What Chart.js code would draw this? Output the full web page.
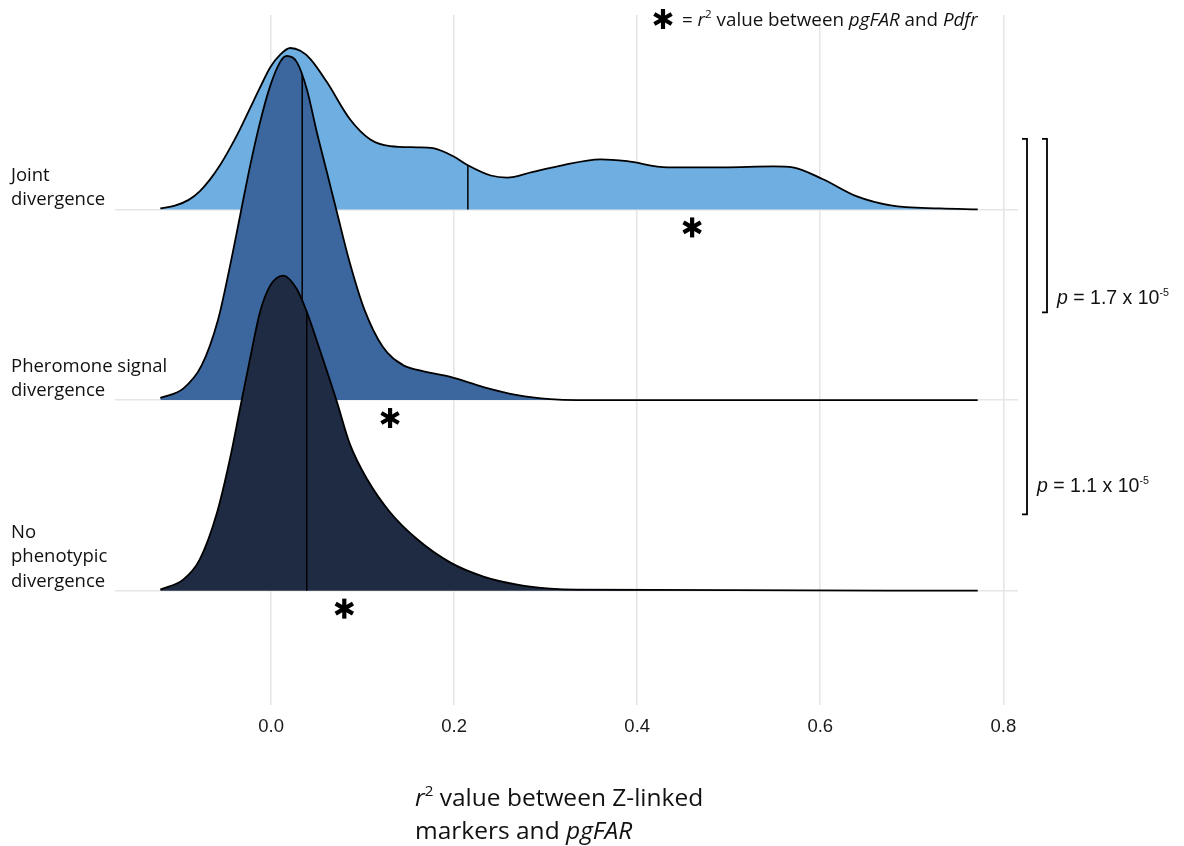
<!DOCTYPE html>
<html>
<head>
<meta charset="utf-8">
<script src="https://cdn.jsdelivr.net/npm/chart.js@4.4.1/dist/chart.umd.min.js"></script>
<style>
  html, body { margin: 0; padding: 0; background: #fff; }
  canvas { display: block; }
</style>
</head>
<body>
<canvas id="myChart" width="1184" height="846"></canvas>
<script>
// ridge groups, top to bottom, and where each ridge sits on the y axis
const groups = [['Joint', 'divergence'], ['Pheromone signal', 'divergence'], ['No', 'phenotypic', 'divergence']];
const ridgeBase = [2, 1, 0];
const ridgeColors = ['#6eaee0', '#3c679e', '#1e2b42'];

// density curves (x = r2, height above the ridge baseline)
const jointX = [-0.121, -0.105, -0.090, -0.078, -0.067, -0.056, -0.045, -0.034, -0.023, -0.012, -0.001, 0.010, 0.021, 0.032, 0.043, 0.061, 0.086, 0.108, 0.130, 0.160, 0.177, 0.199, 0.215, 0.240, 0.258, 0.285, 0.313, 0.360, 0.389, 0.433, 0.494, 0.549, 0.570, 0.603, 0.640, 0.677, 0.731, 0.772];
const jointH = [0.005, 0.020, 0.050, 0.095, 0.155, 0.230, 0.320, 0.420, 0.530, 0.640, 0.745, 0.812, 0.847, 0.832, 0.789, 0.668, 0.474, 0.368, 0.332, 0.326, 0.321, 0.279, 0.232, 0.178, 0.167, 0.196, 0.226, 0.263, 0.253, 0.221, 0.221, 0.226, 0.221, 0.158, 0.068, 0.021, 0.005, 0];

const pherX = [-0.121, -0.096, -0.076, -0.058, -0.045, -0.034, -0.023, -0.012, -0.001, 0.010, 0.017, 0.028, 0.039, 0.050, 0.061, 0.072, 0.086, 0.102, 0.122, 0.144, 0.160, 0.196, 0.232, 0.269, 0.305, 0.334, 0.772];
const pherH = [0.011, 0.060, 0.180, 0.420, 0.700, 0.963, 1.226, 1.458, 1.647, 1.774, 1.805, 1.774, 1.632, 1.405, 1.195, 0.984, 0.720, 0.474, 0.279, 0.184, 0.158, 0.121, 0.068, 0.026, 0.005, 0, 0];

const noneX = [-0.121, -0.096, -0.078, -0.059, -0.045, -0.034, -0.023, -0.012, -0.001, 0.013, 0.028, 0.039, 0.054, 0.072, 0.086, 0.105, 0.130, 0.160, 0.196, 0.232, 0.269, 0.305, 0.334, 0.772];
const noneH = [0.005, 0.058, 0.163, 0.410, 0.689, 0.953, 1.216, 1.463, 1.600, 1.653, 1.584, 1.463, 1.253, 0.989, 0.770, 0.584, 0.411, 0.268, 0.147, 0.074, 0.032, 0.011, 0.005, 0];

// medians: x and the curve height where the line meets it
const medianX = [0.215, 0.034, 0.039];
const medianH = [0.232, 1.71, 1.463];

// r2 between pgFAR and Pdfr (asterisks)
const pdfrR2 = [0.46, 0.13, 0.08];

const xTicks = [0, 0.2, 0.4, 0.6, 0.8];

// significance brackets (y in axis units)
const brackets = [
    { top: 2.37, bottom: 1.46, label: '1.7', offset: 29, textDy: -8 },
    { top: 2.37, bottom: 0.40, label: '1.1', offset: 9, textDy: -22 }
];

const curves = [[jointX, jointH], [pherX, pherH], [noneX, noneH]];

function toPoints(xs, hs, base) {
    return xs.map((x, i) => ({ x: x, y: base + hs[i] }));
}

const datasets = [];
curves.forEach(([xs, hs], i) => {
    const base = ridgeBase[i];
    datasets.push({
        data: toPoints(xs, hs, base),
        borderColor: '#000',
        borderWidth: 1.8,
        backgroundColor: ridgeColors[i],
        fill: { value: base },
        cubicInterpolationMode: 'monotone',
        pointRadius: 0,
        order: 2 * (2 - i) + 1
    });
    datasets.push({
        data: [{ x: medianX[i], y: base }, { x: medianX[i], y: base + medianH[i] }],
        borderColor: '#000',
        borderWidth: 1.5,
        fill: false,
        pointRadius: 0,
        order: 2 * (2 - i)
    });
});

// draws a line of mixed text pieces: {t, it, sup}
function drawRuns(ctx, x, y, runs, size, family, supScale) {
    let cx = x;
    const ss = supScale || 0.62;
    runs.forEach(r => {
        const fs = r.sup ? size * ss : size;
        ctx.font = (r.it ? 'italic ' : '') + fs + 'px ' + family;
        ctx.fillText(r.t, cx, r.sup ? y - size * 0.42 : y);
        cx += ctx.measureText(r.t).width;
    });
    return cx;
}

function drawAsterisk(ctx, cx, cy, r, w) {
    ctx.save();
    ctx.strokeStyle = '#000';
    ctx.lineWidth = w;
    ctx.lineCap = 'butt';
    for (let k = 0; k < 3; k++) {
        const a = Math.PI / 2 + k * Math.PI / 3;
        ctx.beginPath();
        ctx.moveTo(cx - r * Math.cos(a), cy - r * Math.sin(a));
        ctx.lineTo(cx + r * Math.cos(a), cy + r * Math.sin(a));
        ctx.stroke();
    }
    ctx.restore();
}

const annotations = {
    id: 'annotations',
    afterDraw(chart) {
        const ctx = chart.ctx;
        const xs = chart.scales.x, ys = chart.scales.y;
        const area = chart.chartArea;
        ctx.save();
        ctx.fillStyle = '#111';
        ctx.textBaseline = 'alphabetic';
        ctx.textAlign = 'left';

        // group labels, last line sitting on the ridge baseline
        ctx.font = '18.5px "Open Sans"';
        groups.forEach((lines, i) => {
            const yb = ys.getPixelForValue(ridgeBase[i]) - 4;
            lines.forEach((ln, j) => {
                ctx.fillText(ln, 11, yb - (lines.length - 1 - j) * 24.5);
            });
        });

        // asterisks under each ridge
        pdfrR2.forEach((v, i) => {
            drawAsterisk(ctx, xs.getPixelForValue(v), ys.getPixelForValue(ridgeBase[i]) + 18, 10, 4.2);
        });

        // top legend
        drawAsterisk(ctx, 663, 19, 10, 4.2);
        drawRuns(ctx, 682, 26, [
            { t: '= ' }, { t: 'r', it: true }, { t: '2', sup: true }, { t: ' value between ' },
            { t: 'pgFAR', it: true }, { t: ' and ' }, { t: 'Pdfr', it: true }
        ], 18.8, '"Open Sans"');

        // brackets and p values
        ctx.strokeStyle = '#000';
        ctx.lineWidth = 1.8;
        brackets.forEach(b => {
            const bx = area.right + b.offset;
            const t = ys.getPixelForValue(b.top), btm = ys.getPixelForValue(b.bottom);
            ctx.beginPath();
            ctx.moveTo(bx - 5, t);
            ctx.lineTo(bx, t);
            ctx.lineTo(bx, btm);
            ctx.lineTo(bx - 5, btm);
            ctx.stroke();
            drawRuns(ctx, bx + 10, btm + b.textDy, [
                { t: 'p', it: true }, { t: ' = ' + b.label + ' x 10' }, { t: '-5', sup: true }
            ], 19.5, '"Liberation Sans"', 0.55);
        });

        // x axis title
        drawRuns(ctx, 415, 806, [
            { t: 'r', it: true }, { t: '2', sup: true }, { t: ' value between Z-linked' }
        ], 24.5, '"Open Sans"');
        drawRuns(ctx, 415, 839, [
            { t: 'markers and ' }, { t: 'pgFAR', it: true }
        ], 24.5, '"Open Sans"');
        ctx.restore();
    }
};

const ctx = document.getElementById('myChart').getContext('2d');
new Chart(ctx, {
    type: 'line',
    data: { datasets: datasets },
    options: {
        responsive: false,
        animation: false,
        devicePixelRatio: 1,
        layout: { padding: { left: 115, right: 166, top: 15, bottom: 95 } },
        plugins: {
            legend: { display: false },
            tooltip: { enabled: false }
        },
        scales: {
            x: {
                type: 'linear',
                min: -0.1705,
                max: 0.816,
                afterBuildTicks: s => { s.ticks = xTicks.map(v => ({ value: v })); },
                afterFit: s => { s.height = 46; },
                ticks: {
                    color: '#1a1a1a',
                    padding: 11,
                    font: { family: '"Liberation Sans"', size: 18.5 },
                    callback: v => v.toFixed(1)
                },
                grid: { color: '#e6e6e6', lineWidth: 1.6, drawTicks: false },
                border: { display: false }
            },
            y: {
                type: 'linear',
                min: -0.6,
                max: 3.02,
                afterBuildTicks: s => { s.ticks = ridgeBase.map(v => ({ value: v })); },
                afterFit: s => { s.width = 0; },
                ticks: { display: false },
                grid: { color: '#e6e6e6', lineWidth: 1.6, drawTicks: false },
                border: { display: false }
            }
        }
    },
    plugins: [annotations]
});
</script>
</body>
</html>
